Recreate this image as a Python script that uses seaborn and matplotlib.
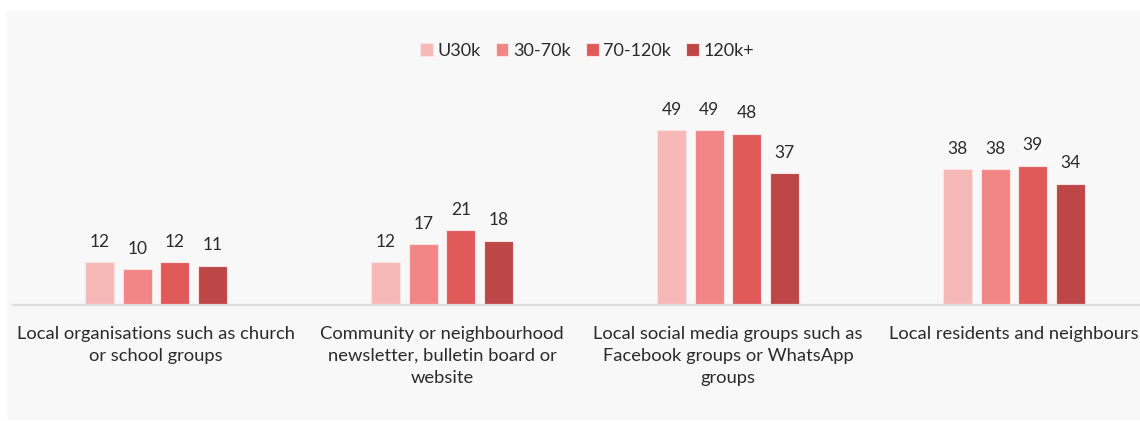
import matplotlib
matplotlib.use("Agg")
import matplotlib.pyplot as plt
import matplotlib.patches as mpatches
import seaborn as sns
import pandas as pd

# Survey data: share of respondents (%) by household income band
categories = [
    "Local organisations such as church\nor school groups",
    "Community or neighbourhood\nnewsletter, bulletin board or\nwebsite",
    "Local social media groups such as\nFacebook groups or WhatsApp\ngroups",
    "Local residents and neighbours",
]
income_bands = ["U30k", "30-70k", "70-120k", "120k+"]
u30k = [12, 12, 49, 38]
k30_70 = [10, 17, 49, 38]
k70_120 = [12, 21, 48, 39]
k120_plus = [11, 18, 37, 34]
band_colors = ["#f7b8b8", "#f28585", "#e15a5a", "#bd4646"]

series = [u30k, k30_70, k70_120, k120_plus]
rows = []
for band, vals in zip(income_bands, series):
    for cat, v in zip(categories, vals):
        rows.append({"category": cat, "band": band, "value": v})
df = pd.DataFrame(rows)

sns.set_theme(style="white")
plt.rcParams["font.family"] = ["Lato", "DejaVu Sans"]
text_color = "#2b2b2b"

W, H = 1140, 421
fig = plt.figure(figsize=(W / 100, H / 100), dpi=100)
fig.patch.set_facecolor("white")

# light grey panel behind the chart
panel = mpatches.Rectangle((7 / W, 1 - 420 / H), (W - 7) / W, 409 / H,
                           transform=fig.transFigure, facecolor="#f8f8f8",
                           edgecolor="none", zorder=-10)
fig.add_artist(panel)

ax = fig.add_axes([13 / W, 1 - 305 / H, 1144 / W, 214 / H])
ax.set_facecolor("none")

sns.barplot(data=df, x="category", y="value", hue="band",
            hue_order=income_bands, order=categories, palette=band_colors,
            width=0.525, gap=0.227, edgecolor="#fbe3e3", linewidth=0.8,
            saturation=1, ax=ax)

for cont in ax.containers:
    ax.bar_label(cont, padding=9, fontsize=12.5, color=text_color)

ax.set_xlim(-0.5, 3.5)
ax.set_ylim(0, 60)
ax.set_xlabel("")
ax.set_ylabel("")
ax.set_yticks([])
ax.tick_params(axis="x", length=0, pad=15, labelsize=13.2, labelcolor=text_color)
for lbl in ax.get_xticklabels():
    lbl.set_horizontalalignment("center")
    lbl.set_linespacing(1.45)
for side in ["top", "left", "right"]:
    ax.spines[side].set_visible(False)
ax.spines["bottom"].set_color("#dedede")
ax.spines["bottom"].set_linewidth(1.6)

sns.move_legend(ax, "center", bbox_to_anchor=(0.515, 1 - 51 / H),
                bbox_transform=fig.transFigure, ncol=4, frameon=False,
                title=None, fontsize=13, handlelength=0.7, handleheight=0.7,
                handletextpad=0.25, columnspacing=0.85)
for t in ax.get_legend().get_texts():
    t.set_color(text_color)

fig.savefig("out.png", dpi=100)
